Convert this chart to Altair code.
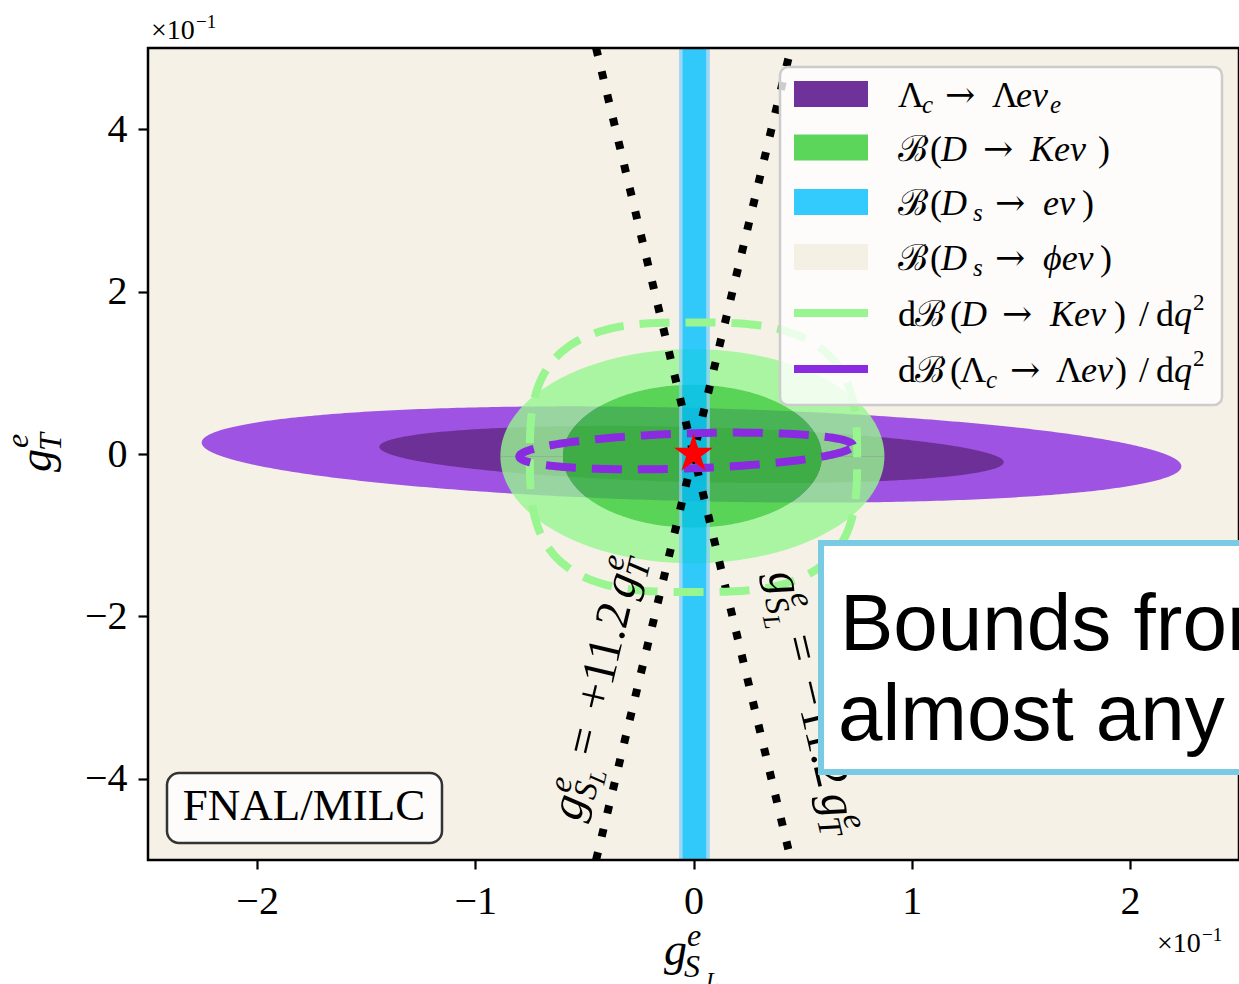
import numpy as np
import pandas as pd
import altair as alt

# ---------------------------------------------------------------- values
# couplings are shown in units of 1e-1
X_DOMAIN = [-2.5, 2.5]
Y_DOMAIN = [-5.0, 5.0]
X_TICKS = [-2, -1, 0, 1, 2]
Y_TICKS = [-4, -2, 0, 2, 4]

# Lambda_c -> Lambda e nu : centre, tilt, semi-axes for 1 sigma / 2 sigma
LC_CENTER = [-0.009, -0.006]
LC_TILT = -4.0
LC_A = [1.434, 2.25]
LC_B = [0.339, 0.573]

# B(D -> K e nu) : centre, semi-axes for 1 sigma / 2 sigma
DK_CENTER = [-0.005, -0.027]
DK_A = [0.593, 0.88]
DK_B = [0.88, 1.318]

# B(D_s -> e nu) band edges
DS_OUTER = [-0.066, 0.075]
DS_INNER = [-0.051, 0.060]

# dB/dq^2 contours
DQ_DK_CENTER = [0.0, -0.04]
DQ_DK_AXES = [0.75, 1.66]
DQ_DK_POWER = 3.0
DQ_LC_CENTER = [-0.034, 0.037]
DQ_LC_AXES = [0.7675, 0.215]
DQ_LC_TILT = 5.5

# flat directions g_SL = +-11.2 g_T
FLAT_COEFF = 11.2

SM_POINT = [0.0, 0.0]

LEGEND_LABELS = [
    "Λc → Λeνe", "ℬ(D → Keν)", "ℬ(Ds → eν)",
    "ℬ(Ds → ϕeν)", "dℬ(D → Keν)/dq²", "dℬ(Λc → Λeν)/dq²",
]

# ---------------------------------------------------------------- style
SERIF = "Liberation Serif"
ARROW_FONT = "DejaVu Serif"
SANS = "Liberation Sans"
BEIGE = "#f5f1e6"
X0, Y0 = 148, 48          # top-left corner of the plot area on the page
W, H = 1091, 812


def px(x):
    return x - X0


def py(y):
    return y - Y0


ONE = pd.DataFrame({"k": [0]})

XS = alt.Scale(domain=X_DOMAIN, nice=False, zero=False)
YS = alt.Scale(domain=Y_DOMAIN, nice=False, zero=False)
X_AXIS = alt.Axis(values=X_TICKS, format="d", title="", grid=False, domain=False,
                  tickSize=9, tickWidth=2.2, tickColor="black",
                  labelFont=SERIF, labelFontSize=40, labelColor="black",
                  labelPadding=44, labelBaseline="alphabetic", labelFlush=False)
Y_AXIS = alt.Axis(values=Y_TICKS, format="d", title="", grid=False, domain=False,
                  tickSize=10, tickWidth=2.2, tickColor="black",
                  labelFont=SERIF, labelFontSize=40, labelColor="black",
                  labelPadding=11, labelFlush=False)


def ex(f="x"):
    return alt.X(f"{f}:Q", scale=XS, axis=X_AXIS)


def ey(f="y"):
    return alt.Y(f"{f}:Q", scale=YS, axis=Y_AXIS)


def text(s, x, y, size, italic=False, angle=0, dx=0, dy=0, font=SERIF,
         align="left", color="black"):
    props = dict(text=s, font=font, fontSize=size, align=align,
                 baseline="alphabetic", color=color)
    if italic:
        props["fontStyle"] = "italic"
    if angle:
        props["angle"] = angle
    if dx:
        props["dx"] = dx
    if dy:
        props["dy"] = dy
    return alt.Chart(ONE).mark_text(**props).encode(
        x=alt.value(px(x)), y=alt.value(py(y)))


def box(x0, y0, x1, y1, **props):
    return alt.Chart(ONE).mark_rect(**props).encode(
        x=alt.value(px(x0)), x2=alt.value(px(x1)),
        y=alt.value(py(y0)), y2=alt.value(py(y1)))


# ---------------------------------------------------------------- geometry
def half_width(a, b, tilt):
    t = np.deg2rad(tilt)
    return np.sqrt((a * np.cos(t)) ** 2 + (b * np.sin(t)) ** 2)


def span(cx, a, b, tilt, n=241):
    return cx + half_width(a, b, tilt) * np.cos(np.linspace(np.pi, 0, n))


def ellipse_y(cx, cy, a, b, tilt, x):
    t = np.deg2rad(tilt)
    c, s = np.cos(t), np.sin(t)
    d = np.asarray(x, dtype=float) - cx
    A = s * s / a ** 2 + c * c / b ** 2
    B = 2 * d * c * s * (1 / a ** 2 - 1 / b ** 2)
    C = d * d * (c * c / a ** 2 + s * s / b ** 2) - 1
    r = np.sqrt(np.clip(B * B - 4 * A * C, 0, None))
    return cy + (-B - r) / (2 * A), cy + (-B + r) / (2 * A)


def filled(center, a, b, tilt, color, opacity=1.0):
    cx, cy = center
    xs = span(cx, a, b, tilt)
    lo, hi = ellipse_y(cx, cy, a, b, tilt, xs)
    df = pd.DataFrame({"x": xs, "y": lo, "y2": hi})
    return alt.Chart(df).mark_area(color=color, opacity=opacity, strokeWidth=0,
                                   interpolate="linear").encode(
        x=ex(), y=ey(), y2="y2")


def ring(center, a_in, b_in, a_out, b_out, tilt, color, opacity):
    """Band between two ellipses, drawn as two non-overlapping pieces."""
    cx, cy = center
    xs = np.union1d(span(cx, a_out, b_out, tilt), span(cx, a_in, b_in, tilt))
    olo, ohi = ellipse_y(cx, cy, a_out, b_out, tilt, xs)
    ilo, ihi = ellipse_y(cx, cy, a_in, b_in, tilt, xs)
    hw = half_width(a_in, b_in, tilt)
    inside = np.abs(xs - cx) <= hw + 1e-12
    left_end = ellipse_y(cx, cy, a_in, b_in, tilt, cx - hw)[0]
    right_end = ellipse_y(cx, cy, a_in, b_in, tilt, cx + hw)[0]
    mid = np.where(xs < cx, left_end, right_end)
    upper = pd.DataFrame({"x": xs, "y": np.where(inside, ihi, mid), "y2": ohi})
    lower = pd.DataFrame({"x": xs, "y": olo, "y2": np.where(inside, ilo, mid)})
    return [alt.Chart(d).mark_area(color=color, opacity=opacity, strokeWidth=0,
                                   interpolate="linear").encode(x=ex(), y=ey(), y2="y2")
            for d in (upper, lower)]


def ellipse_path(center, a, b, tilt, n=361):
    t = np.linspace(0, 2 * np.pi, n)
    th = np.deg2rad(tilt)
    u, v = a * np.cos(t), b * np.sin(t)
    return pd.DataFrame({"x": center[0] + u * np.cos(th) - v * np.sin(th),
                         "y": center[1] + u * np.sin(th) + v * np.cos(th),
                         "i": np.arange(n)})


def superellipse_path(center, axes, power, n=361):
    t = np.linspace(0, 2 * np.pi, n)
    c, s = np.cos(t), np.sin(t)
    return pd.DataFrame({
        "x": center[0] + axes[0] * np.sign(c) * np.abs(c) ** (2 / power),
        "y": center[1] + axes[1] * np.sign(s) * np.abs(s) ** (2 / power),
        "i": np.arange(n)})


def star_path():
    pts = []
    for k in range(10):
        r = 1.0 if k % 2 == 0 else 0.382
        ang = np.deg2rad(-90 + 36 * k)
        pts.append(f"{r * np.cos(ang):.4f},{r * np.sin(ang):.4f}")
    return "M" + "L".join(pts) + "Z"


layers = []

# Lambda_c -> Lambda e nu regions (opaque equivalents of 80 % blueviolet / indigo)
layers.append(filled(LC_CENTER, LC_A[1], LC_B[1], LC_TILT, "#9f53e3"))
layers.append(filled(LC_CENTER, LC_A[0], LC_B[0], LC_TILT, "#6d3096"))

# D -> K e nu regions
layers += ring(DK_CENTER, DK_A[0], DK_B[0], DK_A[1], DK_B[1], 0.0, "#96f690", 0.8)
layers.append(filled(DK_CENTER, DK_A[0], DK_B[0], 0.0, "#32cd32", 0.8))

# D_s -> e nu band
band = pd.DataFrame({
    "x": [DS_OUTER[0], DS_INNER[0], DS_INNER[1]],
    "x2": [DS_INNER[0], DS_INNER[1], DS_OUTER[1]],
    "c": ["#87cefa", "#00bfff", "#87cefa"],
})
layers.append(alt.Chart(band).mark_rect(opacity=0.8, strokeWidth=0).encode(
    x=ex(), x2="x2", y=alt.value(0), y2=alt.value(H),
    color=alt.Color("c:N", scale=None)))

# flat directions
flat = pd.DataFrame([
    {"x": sgn * yv / FLAT_COEFF, "y": yv, "line": name}
    for sgn, name in [(1, "plus"), (-1, "minus")] for yv in Y_DOMAIN
])
layers.append(alt.Chart(flat).mark_line(color="black", strokeWidth=8,
                                        strokeDash=[8, 16], strokeCap="butt",
                                        clip=True).encode(
    x=ex(), y=ey(), detail="line:N"))

# dB/dq^2 contours
layers.append(alt.Chart(superellipse_path(DQ_DK_CENTER, DQ_DK_AXES, DQ_DK_POWER))
              .mark_line(color="#98f590", strokeWidth=8, strokeDash=[30, 16], clip=True)
              .encode(x=ex(), y=ey(), order="i:Q"))
layers.append(alt.Chart(ellipse_path(DQ_LC_CENTER, DQ_LC_AXES[0], DQ_LC_AXES[1], DQ_LC_TILT))
              .mark_line(color="#8a2be2", strokeWidth=8, strokeDash=[30, 16], clip=True)
              .encode(x=ex(), y=ey(), order="i:Q"))

# Standard Model point
layers.append(alt.Chart(pd.DataFrame({"x": [SM_POINT[0]], "y": [SM_POINT[1]]}))
              .mark_point(shape=star_path(), size=1681, filled=True, color="red",
                          opacity=1, strokeWidth=0)
              .encode(x=ex(), y=ey()))

# ---------------------------------------------------------------- legend
layers.append(box(780, 67, 1222, 405, cornerRadius=8, fill="white", fillOpacity=0.8,
                  stroke="#cccccc", strokeWidth=2.5))
ROW_Y = [94, 147.5, 202, 257, 313, 369]
PATCH_COLORS = ["#6e329a", "#5bd65b", "#33cbfe", "#f5f0e4"]
LINE_COLORS = ["#98f590", "#8a2be2"]
for i, c in enumerate(PATCH_COLORS):
    layers.append(box(794, ROW_Y[i] - 13, 868, ROW_Y[i] + 13, color=c))
for j, c in enumerate(LINE_COLORS):
    yy = ROW_Y[4 + j]
    layers.append(alt.Chart(ONE).mark_rule(color=c, strokeWidth=8).encode(
        x=alt.value(px(794)), x2=alt.value(px(868)), y=alt.value(py(yy))))

# typeset pieces of each legend label: (text, left x, role, italic)
LEGEND_PIECES = [
    [("Λ", 898, "m", 0), ("c", 922, "b", 1), ("→", 945, "a", 0), ("Λ", 992, "m", 0),
     ("eν", 1016, "m", 1), ("e", 1050, "b", 1)],
    [("ℬ", 898, "m", 0), ("(", 930, "m", 0), ("D", 941, "m", 1), ("→", 983, "a", 0),
     ("Keν", 1030, "m", 1), (")", 1098, "m", 0)],
    [("ℬ", 898, "m", 0), ("(", 930, "m", 0), ("D", 941, "m", 1), ("s", 973, "b", 1),
     ("→", 995, "a", 0), ("eν", 1043, "m", 1), (")", 1082, "m", 0)],
    [("ℬ", 898, "m", 0), ("(", 930, "m", 0), ("D", 941, "m", 1), ("s", 973, "b", 1),
     ("→", 995, "a", 0), ("ϕeν", 1043, "m", 1), (")", 1100, "m", 0)],
    [("d", 898, "m", 0), ("ℬ", 915, "m", 0), ("(", 950, "m", 0), ("D", 961, "m", 1),
     ("→", 1002, "a", 0), ("Keν", 1050, "m", 1), (")", 1114, "m", 0),
     ("/", 1139, "m", 0), ("d", 1156, "m", 0), ("q", 1174, "m", 1), ("2", 1193, "p", 0)],
    [("d", 898, "m", 0), ("ℬ", 915, "m", 0), ("(", 950, "m", 0), ("Λ", 960, "m", 0),
     ("c", 986, "b", 1), ("→", 1010, "a", 0), ("Λ", 1056, "m", 0), ("eν", 1081, "m", 1),
     (")", 1115, "m", 0), ("/", 1139, "m", 0), ("d", 1156, "m", 0), ("q", 1174, "m", 1),
     ("2", 1193, "p", 0)],
]
ROLE = {"m": (36, 0, SERIF), "b": (25, 6, SERIF), "p": (23, -16, SERIF),
        "a": (36, 0, ARROW_FONT)}
for i, pieces in enumerate(LEGEND_PIECES):
    base = ROW_Y[i] + 13
    for s, x, role, it in pieces:
        size, off, font = ROLE[role]
        layers.append(text(s, x, base + off, size, italic=bool(it), font=font))

# ---------------------------------------------------------------- annotations
layers.append(box(167, 773, 442, 843, cornerRadius=12, fill="white", fillOpacity=0.8,
                  stroke="#333333", strokeWidth=2.5))
layers.append(text("FNAL/MILC", 304, 820, 45, align="center"))


def rotated(sign, ax, ay, angle):
    pieces = [("g", 0, 0, 48, 1), ("e", 25, -17, 33, 1), ("S", 24, 9, 33, 1),
              ("L", 41, 15, 24, 1), ("=", 66, 0, 48, 0), (sign + "11.2", 112, 0, 48, 0),
              ("g", 228, 0, 48, 1), ("e", 253, -17, 33, 1), ("T", 251, 9, 33, 1)]
    return [text(s, ax, ay, size, italic=bool(it), angle=angle, dx=dx, dy=dy)
            for s, dx, dy, size, it in pieces]


layers += rotated("+", 580, 822, 283.3)
layers += rotated("−", 768, 574, 76.7)

# plot frame
layers.append(alt.Chart(ONE).mark_rect(fillOpacity=0, stroke="black", strokeWidth=2.5)
              .encode(x=alt.value(0), x2=alt.value(W), y=alt.value(0), y2=alt.value(H)))

# call-out box
layers.append(box(821, 543, 1270, 772, fill="white", stroke="#78cbe2", strokeWidth=6))
layers.append(text("Bounds from", 840, 650, 80, font=SANS))
layers.append(text("almost any", 838, 740, 80, font=SANS))

# axis titles
layers.append(text("g", 664, 965, 46, italic=True))
layers.append(text("e", 687, 946, 32, italic=True))
layers.append(text("S", 684, 977, 32, italic=True))
layers.append(text("L", 706, 988, 23, italic=True))
layers.append(text("g", 51, 472, 46, italic=True, angle=270))
layers.append(text("e", 51, 472, 32, italic=True, angle=270, dx=24, dy=-23))
layers.append(text("T", 51, 472, 32, italic=True, angle=270, dx=21, dy=10))

# offset (scale) texts
layers.append(text("×10", 151, 39, 28))
layers.append(text("−1", 196, 28, 19))
layers.append(text("×10", 1157, 952, 28))
layers.append(text("−1", 1202, 941, 19))

chart = alt.layer(*layers).properties(
    width=W, height=H,
    padding={"left": X0, "top": Y0, "right": 0, "bottom": 124},
    autosize=alt.AutoSizeParams(type="none"),
    background="white",
).configure_view(fill=BEIGE, stroke="transparent")

chart.save("out.html", embed_options={"renderer": "svg", "actions": False})
